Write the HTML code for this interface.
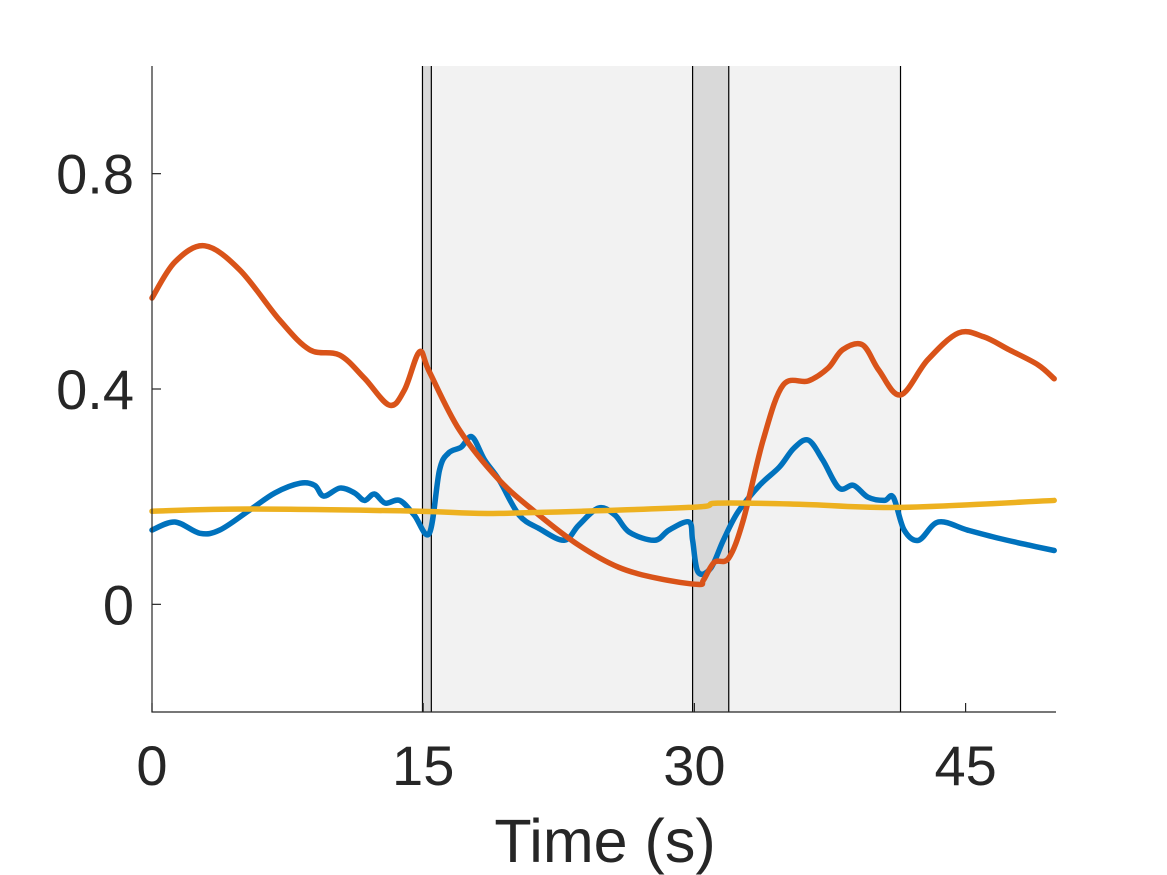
<!DOCTYPE html>
<html><head><meta charset="utf-8"><style>
html,body{margin:0;padding:0;background:#fff;}
svg{display:block;font-family:"Liberation Sans",Arial,sans-serif;}
</style></head><body>
<svg id="chart" width="1167" height="875" viewBox="0 0 1167 875" xmlns="http://www.w3.org/2000/svg">
<g id="bands"></g>
<g id="series"></g>
<g id="axes"></g>
</svg>
<script>
const xTicks=[0,15,30,45];
const yTicks=[0,0.4,0.8];
const yTickLabels=["0","0.4","0.8"];
const lightBands=[[15.45,29.9],[31.9,41.4]];
const darkBands=[[14.96,15.45],[29.9,31.9]];
const eventLines=[14.96,15.45,29.9,31.9,41.4];
const orangeT=[0,1.27,2.92,4.86,7.06,8.72,10.38,11.75,13.13,13.96,14.79,15.34,17.0,19.2,21.4,23.6,25.8,28.0,30.2,30.5,31.1,31.9,32.7,33.8,34.9,36.3,37.4,38.2,39.3,40.2,41.4,42.9,44.6,46.0,47.4,49.0,49.9];
const orangeV=[0.569,0.636,0.666,0.621,0.528,0.473,0.463,0.420,0.370,0.398,0.469,0.432,0.324,0.231,0.166,0.110,0.069,0.048,0.037,0.045,0.078,0.086,0.156,0.305,0.407,0.415,0.439,0.473,0.482,0.435,0.389,0.454,0.504,0.497,0.473,0.445,0.419];
const blueT=[0,1.27,2.65,3.75,5.4,6.8,8.2,9.0,9.5,10.4,11.2,11.75,12.3,12.9,13.7,14.5,15.34,15.9,16.4,17.1,17.7,18.4,19.2,20.3,21.4,22.8,23.6,24.7,25.6,26.4,27.8,28.6,29.7,29.9,30.2,30.9,31.6,32.4,33.6,34.7,35.5,36.3,37.1,38.0,38.8,39.6,40.5,41.0,41.6,42.4,43.5,45.1,46.8,48.5,49.9];
const blueV=[0.138,0.153,0.132,0.138,0.175,0.207,0.225,0.221,0.201,0.216,0.207,0.193,0.205,0.188,0.193,0.166,0.132,0.249,0.281,0.292,0.311,0.268,0.231,0.166,0.141,0.119,0.147,0.179,0.166,0.134,0.119,0.138,0.153,0.119,0.060,0.067,0.119,0.171,0.221,0.255,0.290,0.305,0.268,0.216,0.221,0.199,0.193,0.199,0.138,0.119,0.153,0.138,0.123,0.110,0.100];
const yellowT=[0,5.4,14.8,19.2,29.7,31.3,35.8,41.3,49.9];
const yellowV=[0.173,0.177,0.173,0.169,0.180,0.188,0.186,0.180,0.193];

const X0=152,X1=1056,Y0=712,Y1=66,XMIN=0,XMAX=50,YMIN=-0.2,YMAX=1.0;
const sx=t=>X0+(t-XMIN)/(XMAX-XMIN)*(X1-X0);
const sy=v=>Y0-(v-YMIN)/(YMAX-YMIN)*(Y0-Y1);
const NS="http://www.w3.org/2000/svg";
function mk(tag,parent,attrs){const e=document.createElementNS(NS,tag);for(const k in attrs)e.setAttribute(k,attrs[k]);parent.appendChild(e);return e;}
const bands=document.getElementById('bands'),series=document.getElementById('series'),axes=document.getElementById('axes');
lightBands.forEach(b=>{const r=mk('rect',bands,{x:sx(b[0]),y:Y1,width:sx(b[1])-sx(b[0]),height:Y0-Y1,fill:'#f2f2f2'});

});
darkBands.forEach(b=>{const r=mk('rect',bands,{x:sx(b[0]),y:Y1,width:sx(b[1])-sx(b[0]),height:Y0-Y1,fill:'#d9d9d9'});

});
eventLines.forEach(t=>{const l=mk('line',bands,{x1:sx(t),x2:sx(t),y1:Y1,y2:Y0,stroke:'#000','stroke-width':1.2});

});
function smooth(T,V){const p=T.map((t,i)=>[sx(t),sy(V[i])]);let d='M'+p[0][0]+','+p[0][1];
for(let i=0;i<p.length-1;i++){const a=p[Math.max(0,i-1)],b=p[i],c=p[i+1],e=p[Math.min(p.length-1,i+2)];
d+=' C'+(b[0]+(c[0]-a[0])/6)+','+(b[1]+(c[1]-a[1])/6)+' '+(c[0]-(e[0]-b[0])/6)+','+(c[1]-(e[1]-b[1])/6)+' '+c[0]+','+c[1];}return d;}
[[blueT,blueV,'#0072bd','blue-series'],[orangeT,orangeV,'#d95319','orange-series'],[yellowT,yellowV,'#edb120','yellow-series']].forEach(s=>{
const p=mk('path',series,{d:smooth(s[0],s[1]),fill:'none',stroke:s[2],'stroke-width':5.5,'stroke-linejoin':'round','stroke-linecap':'round'});

});
const ax=mk('path',axes,{d:`M${X0},${Y1} V${Y0} H${X1}`,fill:'none',stroke:'#262626','stroke-width':1.2});


xTicks.forEach(t=>{const l=mk('line',axes,{x1:sx(t),x2:sx(t),y1:Y0,y2:Y0-9,stroke:'#262626','stroke-width':1.2});


const tx=mk('text',axes,{x:sx(t),y:785,'text-anchor':'middle','font-size':56,fill:'#262626'});tx.textContent=String(t);

});
yTicks.forEach((v,i)=>{const l=mk('line',axes,{x1:X0,x2:X0+9,y1:sy(v),y2:sy(v),stroke:'#262626','stroke-width':1.2});


const tx=mk('text',axes,{x:134,y:sy(v)+20,'text-anchor':'end','font-size':56,fill:'#262626'});tx.textContent=yTickLabels[i];

});
const xl=mk('text',axes,{x:605,y:862,'text-anchor':'middle','font-size':61,fill:'#262626'});xl.textContent='Time (s)';


</script>
</body></html>
